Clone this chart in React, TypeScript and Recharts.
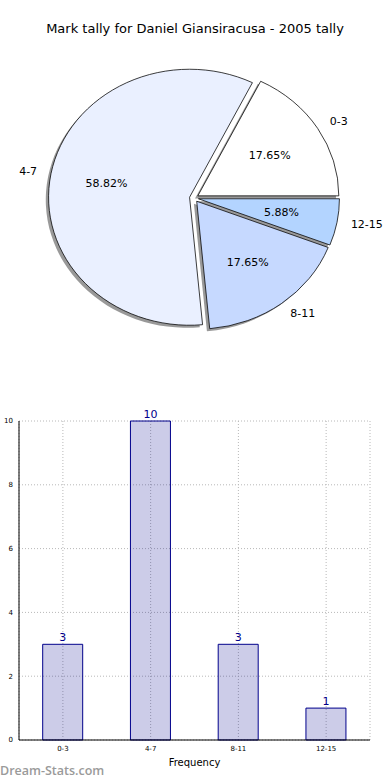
import { Bar, BarChart, CartesianGrid, LabelList, Pie, PieChart, XAxis, YAxis } from 'recharts';

const categories = ['0-3', '4-7', '8-11', '12-15'];
const tallies = [3, 10, 3, 1];
const sliceColors = ['#ffffff', '#eaf0ff', '#c6d9ff', '#b3d4ff'];
const yTicks = [0, 2, 4, 6, 8, 10];

const FONT = '"DejaVu Sans", Verdana, sans-serif';
const RADIAN = Math.PI / 180;

// pie is drawn round, then squashed vertically like the matplotlib ellipse
const PIE_RX = 141;
const PIE_RY = 128;
const SQUASH = PIE_RY / PIE_RX;
const PIE_CX = 194;
const PIE_CY = 198 / SQUASH;
const EXPLODE = 4.5;
const SHADOW = 2.8;

const total = tallies.reduce((s, v) => s + v, 0);

const slices = (() => {
  let acc = 0;
  return categories.map((name, i) => {
    const start = (acc / total) * 360;
    acc += tallies[i];
    const end = (acc / total) * 360;
    const mid = (start + end) / 2;
    return {
      name,
      value: tallies[i],
      start,
      end,
      cx: PIE_CX + EXPLODE * Math.cos(mid * RADIAN),
      cy: PIE_CY - EXPLODE * Math.sin(mid * RADIAN),
      color: sliceColors[i],
    };
  });
})();

function unsquash(x: number, y: number) {
  return `translate(${x} ${y}) scale(1 ${1 / SQUASH}) translate(${-x} ${-y})`;
}

function sliceLabel(name: string, value: number) {
  return (props: any) => {
    const { cx, cy, midAngle, outerRadius } = props;
    const cos = Math.cos(-midAngle * RADIAN);
    const sin = Math.sin(-midAngle * RADIAN);
    const lx = cx + outerRadius * 1.1 * cos;
    const ly = cy + outerRadius * 1.1 * sin;
    const px = cx + outerRadius * 0.6 * cos;
    const py = cy + outerRadius * 0.6 * sin;
    const pct = ((value / total) * 100).toFixed(2) + '%';
    return (
      <g fontFamily={FONT} fontSize={11} fill="#000">
        <text
          x={lx}
          y={ly}
          textAnchor={cos >= 0 ? 'start' : 'end'}
          dominantBaseline="central"
          transform={unsquash(lx, ly)}
        >
          {name}
        </text>
        <text x={px} y={py} textAnchor="middle" dominantBaseline="central" transform={unsquash(px, py)}>
          {pct}
        </text>
      </g>
    );
  };
}

const barData = categories.map((name, i) => ({ name, value: tallies[i] }));

export default function App() {
  return (
    <div style={{ position: 'absolute', left: 0, top: 0, width: 390, height: 780, background: '#fff', overflow: 'hidden' }}>
      <div
        style={{
          position: 'absolute',
          top: 21,
          left: 0,
          width: 390,
          textAlign: 'center',
          fontFamily: FONT,
          fontSize: 13,
          color: '#000',
        }}
      >
        Mark tally for Daniel Giansiracusa - 2005 tally
      </div>

      <div style={{ position: 'absolute', top: 0, left: 0, transform: `scale(1, ${SQUASH})`, transformOrigin: '0 0' }}>
        <PieChart width={390} height={390} margin={{ top: 0, right: 0, bottom: 0, left: 0 }}>
          {slices.map((s) => (
            <Pie
              key={'shadow-' + s.name}
              data={[{ name: s.name, value: s.value }]}
              dataKey="value"
              cx={s.cx - SHADOW}
              cy={s.cy + SHADOW}
              outerRadius={PIE_RX}
              startAngle={s.start}
              endAngle={s.end}
              fill="#555555"
              fillOpacity={0.6}
              stroke="none"
              isAnimationActive={false}
            />
          ))}
          {slices.map((s) => (
            <Pie
              key={s.name}
              data={[{ name: s.name, value: s.value }]}
              dataKey="value"
              cx={s.cx}
              cy={s.cy}
              outerRadius={PIE_RX}
              startAngle={s.start}
              endAngle={s.end}
              fill={s.color}
              stroke="#000"
              strokeWidth={0.8}
              label={sliceLabel(s.name, s.value)}
              labelLine={false}
              isAnimationActive={false}
            />
          ))}
        </PieChart>
      </div>

      <div style={{ position: 'absolute', top: 400, left: 0 }}>
        <BarChart width={390} height={380} data={barData} margin={{ top: 21, right: 20, left: 0, bottom: 0 }} barCategoryGap="27%">
          <CartesianGrid stroke="#b8b8b8" strokeDasharray="1 2" />
          <XAxis
            dataKey="name"
            height={40}
            axisLine={{ stroke: '#000' }}
            tickLine={false}
            tickSize={4}
            tick={{ fontSize: 7, fill: '#000', fontFamily: FONT }}
            label={{ value: 'Frequency', position: 'insideBottom', offset: 14, fontSize: 10, fill: '#000', fontFamily: FONT }}
          />
          <XAxis xAxisId="top" orientation="top" height={0} tick={false} tickLine={false} axisLine={{ stroke: '#000' }} />
          <YAxis
            width={19}
            domain={[0, 10]}
            ticks={yTicks}
            axisLine={{ stroke: '#000' }}
            tickLine={false}
            tickSize={4}
            tick={{ fontSize: 7, fill: '#000', fontFamily: FONT }}
            label={(p: any) => {
              const vb = p.viewBox || { y: 21, height: 319 };
              const x = -3;
              const y = vb.y + vb.height / 2;
              return (
                <text x={x} y={y} fontSize={10} fontFamily={FONT} fill="#000" textAnchor="middle" transform={`rotate(-90 ${x} ${y})`}>
                  Mark count
                </text>
              );
            }}
          />
          <YAxis yAxisId="right" orientation="right" width={0} tick={false} tickLine={false} axisLine={{ stroke: '#000' }} />
          <Bar dataKey="value" fill="#00008b" fillOpacity={0.2} stroke="#00008b" strokeWidth={1} isAnimationActive={false}>
            <LabelList dataKey="value" position="top" offset={3} fill="#00008b" fontSize={11} fontFamily={FONT} />
          </Bar>
        </BarChart>
      </div>

      <div
        style={{
          position: 'absolute',
          left: 0,
          top: 763,
          fontFamily: '"Open Sans", "DejaVu Sans", sans-serif',
          fontSize: 12.5,
          fontWeight: 600,
          color: '#9a9a9a',
          lineHeight: '16px',
        }}
      >
        Dream-Stats.com
      </div>
    </div>
  );
}
